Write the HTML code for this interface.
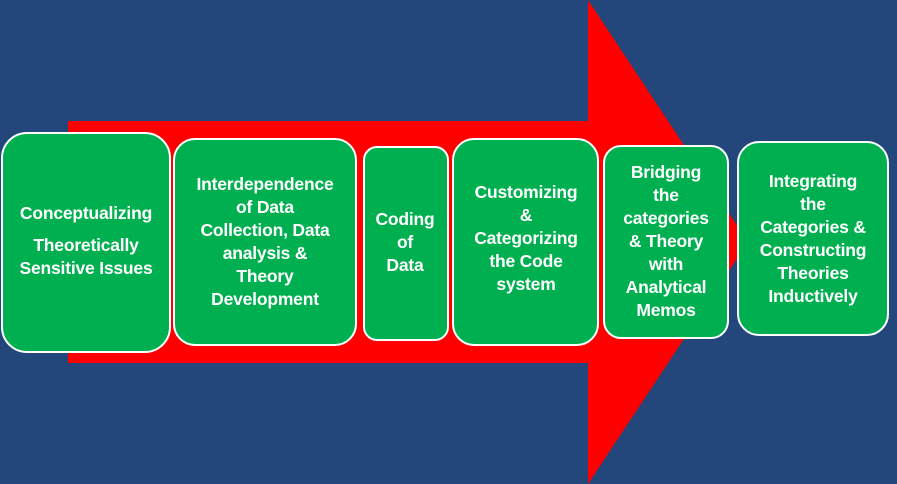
<!DOCTYPE html>
<html><head><meta charset="utf-8"><style>
*{margin:0;padding:0;box-sizing:border-box}
body{width:897px;height:484px;background:#23477a;position:relative;overflow:hidden;font-family:"Liberation Sans",sans-serif}
.b{position:absolute;background:#00b050;border:2.5px solid #fff;border-radius:22px}
.t{position:absolute;color:#fff;font-weight:bold;font-size:17.5px;line-height:23px;text-align:center;white-space:nowrap;transform:translateX(-50%);letter-spacing:-0.2px}
</style></head><body>
<svg width="897" height="484" style="position:absolute;left:0;top:0">
<polygon points="68,121 588,121 588,0 748,242 588,484 588,363 68,363" fill="#ff0000"/>
</svg>
<div class="b" style="left:1px;top:132px;width:170px;height:221px;border-radius:26px"></div>
<div class="b" style="left:173px;top:138px;width:184px;height:208px"></div>
<div class="b" style="left:363px;top:146px;width:86px;height:195px;border-radius:14px"></div>
<div class="b" style="left:452px;top:138px;width:147px;height:208px"></div>
<div class="b" style="left:603px;top:145px;width:126px;height:194px;border-radius:18px"></div>
<div class="b" style="left:737px;top:141px;width:152px;height:195px"></div>

<div class="t" style="left:86px;top:202px">Conceptualizing</div>
<div class="t" style="left:86px;top:234px">Theoretically<br>Sensitive Issues</div>
<div class="t" style="left:265px;top:173px">Interdependence<br>of Data<br>Collection, Data<br>analysis &amp;<br>Theory<br>Development</div>
<div class="t" style="left:405px;top:208px">Coding<br>of<br>Data</div>
<div class="t" style="left:526px;top:181px">Customizing<br>&amp;<br>Categorizing<br>the Code<br>system</div>
<div class="t" style="left:666px;top:161px">Bridging<br>the<br>categories<br>&amp; Theory<br>with<br>Analytical<br>Memos</div>
<div class="t" style="left:813px;top:170px">Integrating<br>the<br>Categories &amp;<br>Constructing<br>Theories<br>Inductively</div>
</body></html>
